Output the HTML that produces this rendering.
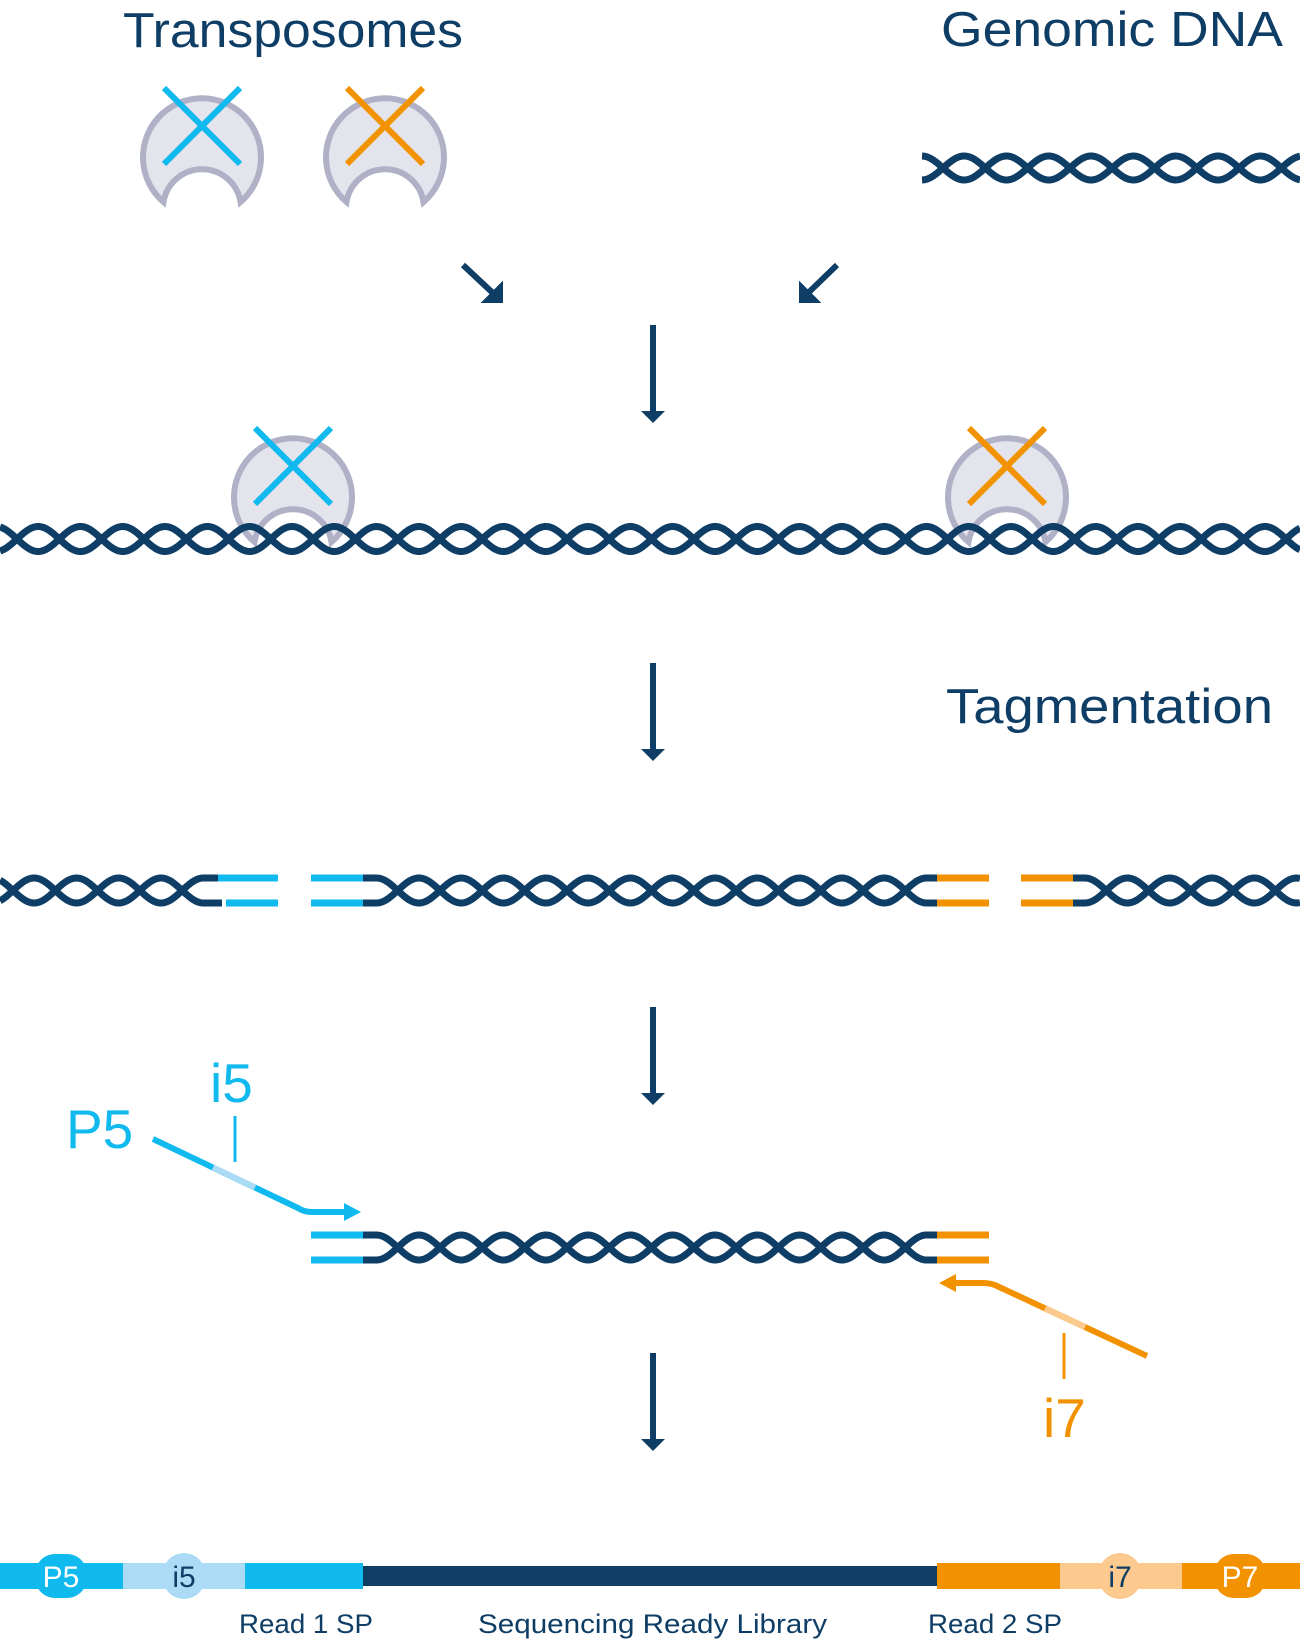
<!DOCTYPE html>
<html><head><meta charset="utf-8">
<style>
html,body{margin:0;padding:0;background:#fff;}
svg{display:block;}
text{font-family:"Liberation Sans",sans-serif;}
</style></head>
<body>
<svg id="s" width="1300" height="1645" viewBox="0 0 1300 1645" xmlns="http://www.w3.org/2000/svg">
<defs>
  <g id="tp">
    <path d="M-38.5,45 A59,59 0 1 1 38.5,45 A39,39 0 0 0 -38.5,45 Z" fill="#e4e4ed" stroke="#b0b0c6" stroke-width="6" stroke-linejoin="miter"/>
  </g>
</defs>

<text x="123" y="47" font-size="49" fill="#0e3d66" textLength="340" lengthAdjust="spacingAndGlyphs">Transposomes</text>
<text x="941" y="46" font-size="49" fill="#0e3d66" textLength="342" lengthAdjust="spacingAndGlyphs">Genomic DNA</text>
<text x="946" y="723" font-size="49" fill="#0e3d66" textLength="327" lengthAdjust="spacingAndGlyphs">Tagmentation</text>

<g transform="translate(202,157)"><use href="#tp"/>
  <line x1="-38" y1="-69" x2="38" y2="7" stroke="#10b9ee" stroke-width="6"/>
  <line x1="38" y1="-69" x2="-38" y2="7" stroke="#10b9ee" stroke-width="6"/></g>
<g transform="translate(385,157)"><use href="#tp"/>
  <line x1="-38" y1="-69" x2="38" y2="7" stroke="#f39200" stroke-width="6"/>
  <line x1="38" y1="-69" x2="-38" y2="7" stroke="#f39200" stroke-width="6"/></g>

<g transform="translate(293,497)"><use href="#tp"/>
  <line x1="-38" y1="-69" x2="38" y2="7" stroke="#10b9ee" stroke-width="6"/>
  <line x1="38" y1="-69" x2="-38" y2="7" stroke="#10b9ee" stroke-width="6"/></g>
<g transform="translate(1007,497)"><use href="#tp"/>
  <line x1="-38" y1="-69" x2="38" y2="7" stroke="#f39200" stroke-width="6"/>
  <line x1="38" y1="-69" x2="-38" y2="7" stroke="#f39200" stroke-width="6"/></g>

<g id="dna" fill="none" stroke="#0e3d66" stroke-width="7"></g>

<g stroke="#0e3d66" stroke-width="6" fill="#0e3d66">
  <line x1="463" y1="265" x2="495" y2="295"/>
  <polygon points="483,302 502,302 502,283" stroke="#0e3d66" stroke-width="2"/>
  <line x1="837" y1="265" x2="806" y2="295"/>
  <polygon points="800,302 819,302 800,283" stroke="#0e3d66" stroke-width="2"/>
  <line x1="653" y1="325" x2="653" y2="412"/>
  <polygon points="641,411 665,411 653,423" stroke="none"/>
  <line x1="653" y1="663" x2="653" y2="750"/>
  <polygon points="641,749 665,749 653,761" stroke="none"/>
  <line x1="653" y1="1007" x2="653" y2="1094"/>
  <polygon points="641,1093 665,1093 653,1105" stroke="none"/>
  <line x1="653" y1="1353" x2="653" y2="1440"/>
  <polygon points="641,1439 665,1439 653,1451" stroke="none"/>
</g>

<g stroke-width="7">
  <line x1="218" y1="878" x2="278" y2="878" stroke="#10b9ee"/>
  <line x1="226" y1="903" x2="278" y2="903" stroke="#10b9ee"/>
  <line x1="311" y1="878" x2="363" y2="878" stroke="#10b9ee"/>
  <line x1="311" y1="903" x2="363" y2="903" stroke="#10b9ee"/>
  <line x1="937" y1="878" x2="989" y2="878" stroke="#f39200"/>
  <line x1="937" y1="903" x2="989" y2="903" stroke="#f39200"/>
  <line x1="1021" y1="878" x2="1073" y2="878" stroke="#f39200"/>
  <line x1="1021" y1="903" x2="1073" y2="903" stroke="#f39200"/>
  <line x1="311" y1="1235" x2="363" y2="1235" stroke="#10b9ee"/>
  <line x1="311" y1="1260" x2="363" y2="1260" stroke="#10b9ee"/>
  <line x1="937" y1="1235" x2="989" y2="1235" stroke="#f39200"/>
  <line x1="937" y1="1260" x2="989" y2="1260" stroke="#f39200"/>
</g>

<text x="66" y="1148" font-size="55" fill="#10b9ee">P5</text>
<text x="210" y="1102" font-size="55" fill="#10b9ee">i5</text>
<line x1="235" y1="1116" x2="235" y2="1162" stroke="#10b9ee" stroke-width="3"/>
<path d="M153,1139 L298,1208 Q304,1212 312,1212 L348,1212" fill="none" stroke="#10b9ee" stroke-width="6"/>
<line x1="213" y1="1167.4" x2="255" y2="1187.3" stroke="#acdcf5" stroke-width="6"/>
<polygon points="344,1203 361,1212 344,1221" fill="#10b9ee"/>

<text x="1043" y="1437" font-size="55" fill="#f39200">i7</text>
<line x1="1064" y1="1333" x2="1064" y2="1379" stroke="#f39200" stroke-width="3"/>
<path d="M1147,1356 L997,1286 Q991,1283 983,1283 L952,1283" fill="none" stroke="#f39200" stroke-width="6"/>
<line x1="1085" y1="1327.2" x2="1045" y2="1308.6" stroke="#fcc98f" stroke-width="6"/>
<polygon points="956,1274 939,1283 956,1292" fill="#f39200"/>

<rect x="0" y="1563" width="123" height="26" fill="#10b9ee"/>
<rect x="123" y="1563" width="122" height="26" fill="#acdcf5"/>
<rect x="245" y="1563" width="118" height="26" fill="#10b9ee"/>
<rect x="363" y="1566" width="574" height="20" fill="#0e3d66"/>
<rect x="937" y="1563" width="123" height="26" fill="#f39200"/>
<rect x="1060" y="1563" width="122" height="26" fill="#fcc98f"/>
<rect x="1182" y="1563" width="118" height="26" fill="#f39200"/>
<rect x="35" y="1554" width="52" height="44" rx="20" fill="#10b9ee"/>
<text x="61" y="1587" font-size="30" fill="#fff" text-anchor="middle">P5</text>
<ellipse cx="184" cy="1576" rx="22" ry="23" fill="#acdcf5"/>
<text x="184" y="1587" font-size="30" fill="#0e3d66" text-anchor="middle">i5</text>
<ellipse cx="1120" cy="1576" rx="22" ry="23" fill="#fcc98f"/>
<text x="1120" y="1587" font-size="30" fill="#0e3d66" text-anchor="middle">i7</text>
<rect x="1214" y="1554" width="52" height="44" rx="20" fill="#f39200"/>
<text x="1240" y="1587" font-size="30" fill="#fff" text-anchor="middle">P7</text>

<text x="239" y="1633" font-size="27" fill="#0e3d66" textLength="134" lengthAdjust="spacingAndGlyphs">Read 1 SP</text>
<text x="478" y="1633" font-size="27" fill="#0e3d66" textLength="349" lengthAdjust="spacingAndGlyphs">Sequencing Ready Library</text>
<text x="928" y="1633" font-size="27" fill="#0e3d66" textLength="134" lengthAdjust="spacingAndGlyphs">Read 2 SP</text>
</svg>
<script>
(function(){
  var g=document.getElementById('dna'), P=42.3;
  function strand(xa,xb,c,A,x0,sign,padL,padR){
    var d='';
    if(padL!=null) d+='M'+padL+','+(c+sign*A*Math.sin(Math.PI*(xa-x0)/P)).toFixed(2)+' L';
    else d+='M';
    for(var x=xa;x<=xb+0.01;x+=1.5){
      var y=c+sign*A*Math.sin(Math.PI*(x-x0)/P);
      d+=(x===xa?'':' L')+x.toFixed(2)+','+y.toFixed(2);
    }
    var ye=c+sign*A*Math.sin(Math.PI*(xb-x0)/P);
    d+=' L'+xb.toFixed(2)+','+ye.toFixed(2);
    if(padR!=null) d+=' L'+padR+','+ye.toFixed(2);
    var p=document.createElementNS('http://www.w3.org/2000/svg','path');
    p.setAttribute('d',d);g.appendChild(p);
  }
  function helix(xa,xb,c,A,x0,padL,padR){
    strand(xa,xb,c,A,x0,1,padL,padR);
    strand(xa,xb,c,A,x0,-1,padL,padR);
  }
  helix(922,1300,168,12,943,null,null);
  helix(0,1300,539,12.5,17,null,null);
  helix(0,203.4,890.5,12.5,13,null,222);
  helix(376.5,926.5,890.5,12.5,397.7,363,937);
  helix(1085,1300,890.5,12.5,1106.2,1073,null);
  helix(376.5,926.5,1247.5,12.5,397.7,363,937);
})();
</script>
</body></html>
